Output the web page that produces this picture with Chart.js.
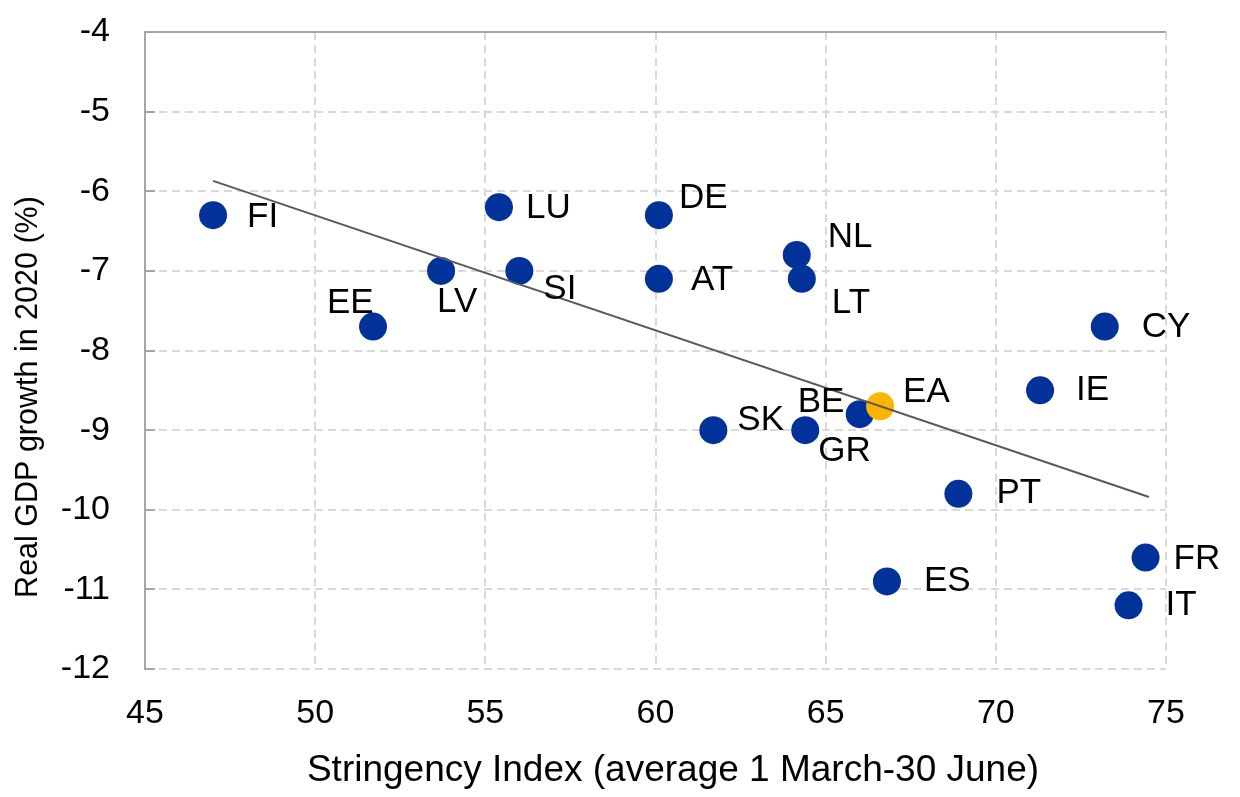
<!DOCTYPE html>
<html>
<head>
<meta charset="utf-8">
<script src="https://cdn.jsdelivr.net/npm/chart.js@4.4.0/dist/chart.umd.min.js"></script>
<style>
html,body{margin:0;padding:0;background:#ffffff;}
#wrap{width:1240px;height:797px;position:relative;}
</style>
</head>
<body>
<div id="wrap"><canvas id="c" width="1240" height="797"></canvas></div>
<script>
// ---- data ----
const countries  = ['FI','LU','DE','NL','LT','AT','SI','LV','EE','CY','IE','BE','GR','SK','PT','ES','FR','IT','EA'];
const stringency = [47.0, 55.4, 60.1, 64.15, 64.3, 60.1, 56.0, 53.7, 51.7, 73.2, 71.3, 66.0, 64.4, 61.7, 68.9, 66.8, 74.4, 73.9, 66.6];
const gdpGrowth  = [-6.3, -6.2, -6.3, -6.8, -7.1, -7.1, -7.0, -7.0, -7.7, -7.7, -8.5, -8.8, -9.0, -9.0, -9.8, -10.9, -10.6, -11.2, -8.7];
const trendX = [47.0, 74.5];
const trendY = [-5.87, -9.84];
const xTicks = [45, 50, 55, 60, 65, 70, 75];
const yTicks = [-12, -11, -10, -9, -8, -7, -6, -5, -4];
const xTitle = 'Stringency Index (average 1 March-30 June)';
const yTitle = 'Real GDP growth in 2020 (%)';
const highlight = 'EA';

// ---- label placement (style) ----
const labelOffsets = {
  FI:[34,2], LU:[27,1], DE:[20,-17], NL:[31,-18], LT:[30,25], AT:[32,2], SI:[24,18],
  LV:[-4,31], EE:[-46,-23], CY:[37,1], IE:[36,0], EA:[23,-14], BE:[-62,-12], GR:[13,21],
  SK:[24,-10], PT:[38,0], ES:[37,0], FR:[28,2], IT:[37,0]
};

const FONT = "'Liberation Sans', Arial, sans-serif";
const BLUE = '#003299';
const GOLD = '#FFB400';
const GRID = '#d9d9d9';
const AXIS = '#a6a6a6';

Chart.defaults.font.family = FONT;
Chart.defaults.color = '#000000';

const points = countries.map((c, i) => ({x: stringency[i], y: gdpGrowth[i]}));
const trend = trendX.map((x, i) => ({x: x, y: trendY[i]}));

const labelPlugin = {
  id: 'labels',
  afterDatasetsDraw(chart) {
    const ctx = chart.ctx;
    const meta = chart.getDatasetMeta(1);
    ctx.save();
    ctx.font = '35px ' + FONT;
    ctx.fillStyle = '#000';
    ctx.textAlign = 'left';
    ctx.textBaseline = 'middle';
    meta.data.forEach((el, i) => {
      const c = countries[i];
      const off = labelOffsets[c] || [30, 0];
      ctx.fillText(c, el.x + off[0], el.y + off[1]);
    });
    ctx.restore();
  },
  afterDraw(chart) {
    const ctx = chart.ctx;
    ctx.save();
    ctx.fillStyle = '#000';
    ctx.textAlign = 'center';
    ctx.textBaseline = 'middle';
    ctx.font = '37px ' + FONT;
    ctx.fillText(xTitle, 673, 771);
    ctx.translate(29, 397);
    ctx.rotate(-Math.PI / 2);
    ctx.font = '30.5px ' + FONT;
    ctx.fillText(yTitle, 0, 0);
    ctx.restore();
  }
};

new Chart(document.getElementById('c'), {
  type: 'scatter',
  data: {
    datasets: [
      {
        type: 'line',
        data: trend,
        borderColor: '#595959',
        borderWidth: 2,
        pointRadius: 0,
        fill: false,
        order: 0
      },
      {
        data: points,
        pointRadius: 14,
        pointHoverRadius: 14,
        pointBorderWidth: 0,
        backgroundColor: points.map((p, i) => countries[i] === highlight ? GOLD : BLUE),
        borderColor: points.map((p, i) => countries[i] === highlight ? GOLD : BLUE),
        order: 1
      }
    ]
  },
  options: {
    responsive: false,
    animation: false,
    events: [],
    layout: {padding: {top: 32, right: 74, left: 0, bottom: 0}},
    plugins: {legend: {display: false}, tooltip: {enabled: false}},
    scales: {
      x: {
        type: 'linear',
        min: 45, max: 75,
        afterBuildTicks: s => { s.ticks = xTicks.map(v => ({value: v})); },
        afterFit: s => { s.height = 128; s.paddingLeft = 0; s.paddingRight = 0; s.paddingTop = 0; s.paddingBottom = 0; },
        ticks: {font: {size: 34}, padding: 24, color: '#000'},
        grid: {color: GRID, lineWidth: 2, drawTicks: false},
        border: {display: false, dash: [8, 5]}
      },
      y: {
        type: 'linear',
        min: -12, max: -4,
        afterBuildTicks: s => { s.ticks = yTicks.map(v => ({value: v})); },
        afterFit: s => { s.width = 145; s.paddingTop = 0; s.paddingBottom = 0; s.paddingLeft = 0; s.paddingRight = 0; },
        ticks: {font: {size: 34}, padding: 45, color: '#000'},
        grid: {
          color: c => (c.tick && c.tick.value === -4) ? AXIS : GRID,
          lineWidth: 2,
          drawTicks: true,
          tickLength: -10,
          tickColor: AXIS,
          tickWidth: 2
        },
        border: {
          display: true, color: AXIS, width: 2,
          dash: c => (c.tick && c.tick.value === -4) ? [] : [8, 5]
        }
      }
    }
  },
  plugins: [labelPlugin]
});
</script>
</body>
</html>
